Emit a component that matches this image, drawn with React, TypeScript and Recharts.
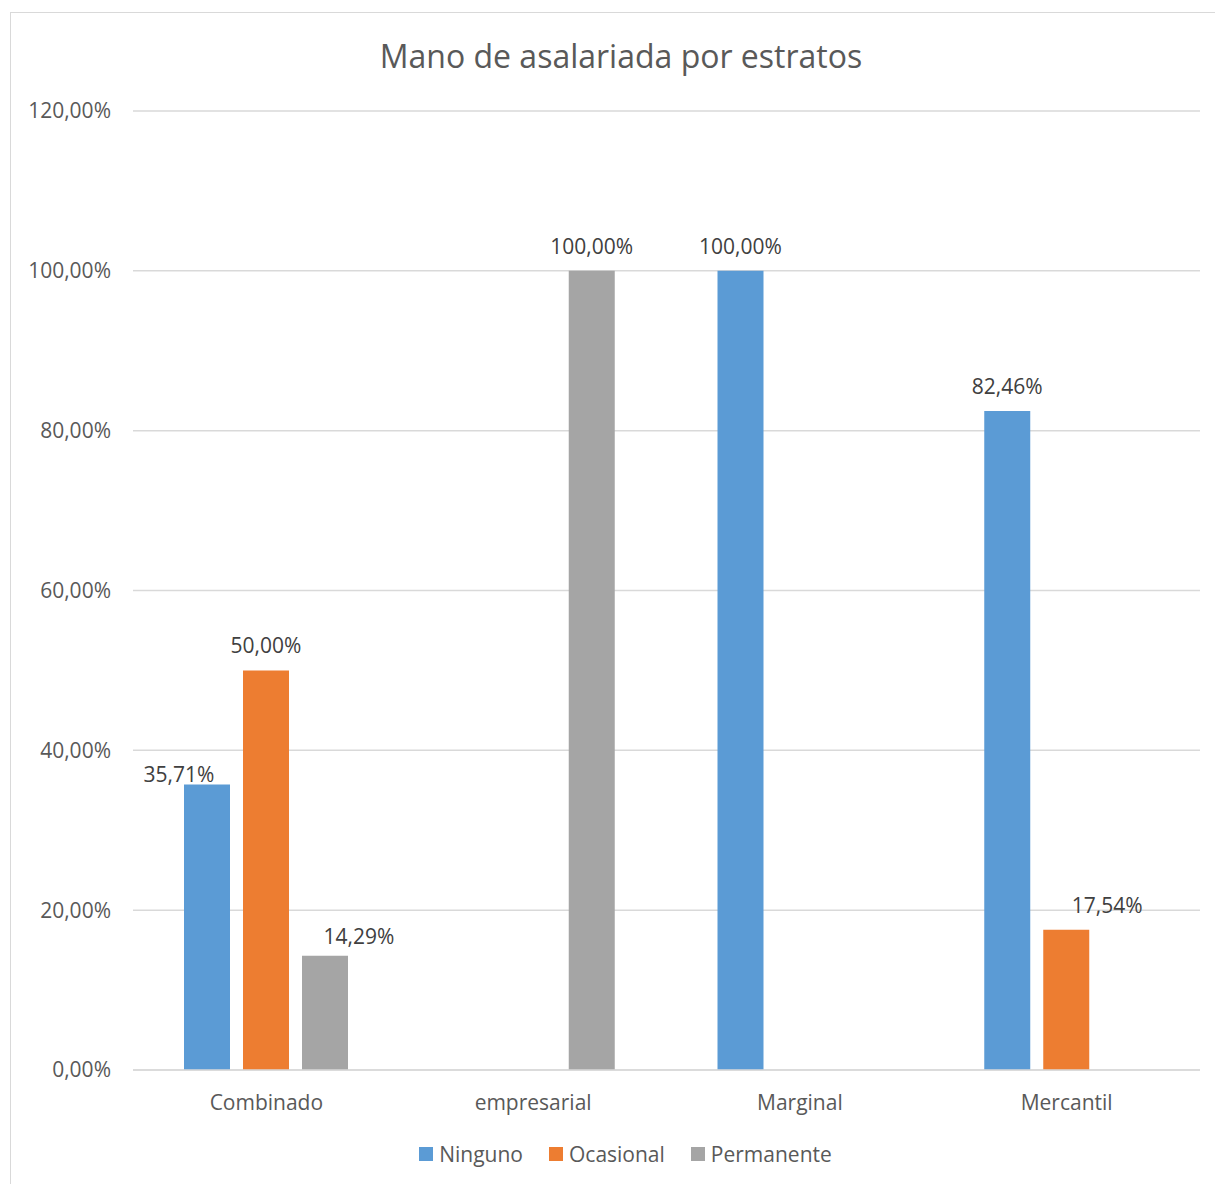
import React from 'react';
import { BarChart, Bar, XAxis, YAxis, CartesianGrid, Legend, LabelList } from 'recharts';

const categories = ['Combinado', 'empresarial', 'Marginal', 'Mercantil'];
const ninguno = [35.71, null, 100, 82.46];
const ocasional = [50.0, null, null, 17.54];
const permanente = [14.29, 100, null, null];
const yTicks = [0, 20, 40, 60, 80, 100, 120];

const data = categories.map((name, i) => ({
  name,
  Ninguno: ninguno[i],
  Ocasional: ocasional[i],
  Permanente: permanente[i],
}));

const seriesValues: Record<string, (number | null)[]> = {
  Ninguno: ninguno,
  Ocasional: ocasional,
  Permanente: permanente,
};

// manual label nudges, like the ones dragged by hand in the original
const nudges: Record<string, Record<string, [number, number]>> = {
  Ninguno: { Combinado: [-28, 14] },
  Permanente: { Combinado: [34, 5] },
  Ocasional: { Mercantil: [41, 0] },
};

const TEXT = '#595959';
const FONT = '"Open Sans", sans-serif';
const fmt = (v: number) => v.toFixed(2).replace('.', ',') + '%';

const makeLabel = (series: string) => (props: any) => {
  const { x, y, width, value } = props;
  if (value == null) return null;
  const i = seriesValues[series].indexOf(value);
  const cat = categories[i];
  const [dx, dy] = (nudges[series] && nudges[series][cat]) || [0, 0];
  return (
    <text
      x={x + width / 2 + dx}
      y={y - 17 + dy}
      textAnchor="middle"
      fill="#404040"
      fontSize={21}
      fontFamily={FONT}
    >
      {fmt(value)}
    </text>
  );
};

const LegendContent = (props: any) => {
  const { payload } = props;
  return (
    <div style={{ height: 30, display: 'flex', justifyContent: 'center', alignItems: 'center', fontFamily: FONT, fontSize: 21, color: TEXT, paddingLeft: 40 }}>
      {payload.map((p: any) => (
        <div key={p.value} style={{ display: 'flex', alignItems: 'center', margin: '0 13px' }}>
          <span style={{ width: 14, height: 14, background: p.color, display: 'inline-block', marginRight: 6 }} />
          <span>{p.value}</span>
        </div>
      ))}
    </div>
  );
};

const series = [
  { key: 'Ninguno', color: '#5B9BD5' },
  { key: 'Ocasional', color: '#ED7D31' },
  { key: 'Permanente', color: '#A5A5A5' },
];

export default function App() {
  return (
    <div style={{ position: 'fixed', left: 0, top: 0, width: 1215, height: 1184, overflow: 'hidden', background: '#fff' }}>
      <div style={{ position: 'absolute', left: 10, top: 12, width: 1204, height: 1180, border: '1px solid #d9d9d9', background: '#fff' }}>
        <div style={{ position: 'absolute', left: 0, top: 21, width: 1220, textAlign: 'center', fontFamily: FONT, fontSize: 32, color: TEXT }}>
          Mano de asalariada por estratos
        </div>
        <BarChart
          width={1204}
          height={1171}
          data={data}
          margin={{ top: 98, right: 15, left: 0, bottom: 15 }}
          barSize={46}
          barGap={13}
        >
          <CartesianGrid vertical={false} stroke="#d9d9d9" strokeWidth={1.5} />
          <XAxis
            dataKey="name"
            height={69}
            tickLine={false}
            axisLine={{ stroke: '#d9d9d9', strokeWidth: 1.5 }}
            tickMargin={19}
            tick={{ fill: TEXT, fontSize: 21, fontFamily: FONT }}
          />
          <YAxis
            width={122}
            domain={[0, 120]}
            ticks={yTicks}
            tickFormatter={fmt}
            axisLine={false}
            tickLine={false}
            tickSize={0}
            tickMargin={22}
            tick={{ fill: TEXT, fontSize: 21, fontFamily: FONT }}
          />
          <Legend verticalAlign="bottom" content={<LegendContent />} />
          {series.map((s) => (
            <Bar key={s.key} dataKey={s.key} fill={s.color} isAnimationActive={false}>
              <LabelList dataKey={s.key} content={makeLabel(s.key)} />
            </Bar>
          ))}
        </BarChart>
      </div>
    </div>
  );
}
